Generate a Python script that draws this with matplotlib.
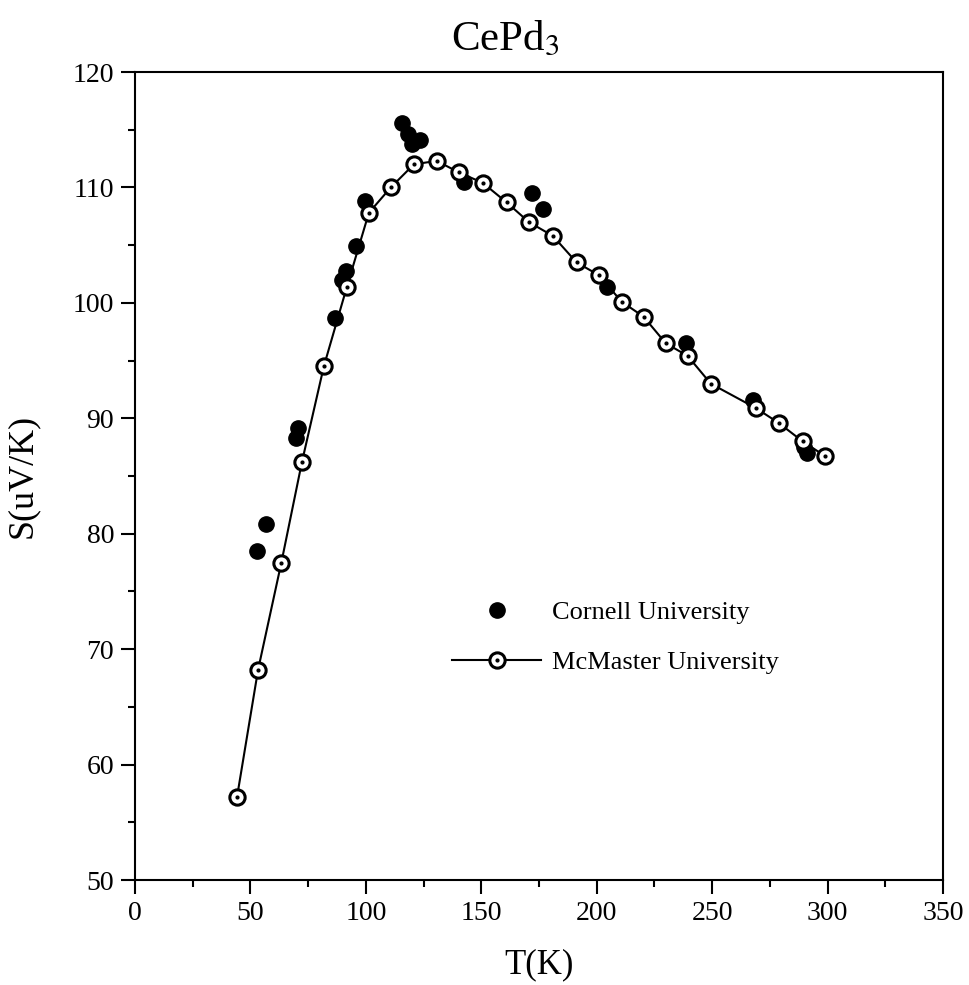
import matplotlib
matplotlib.use("Agg")
import matplotlib.pyplot as plt
from matplotlib.ticker import MultipleLocator
import numpy as np

# McMaster University (open circles joined by line)
mcm_T = [44.2, 53.3, 63.4, 72.3, 81.8, 91.8, 101.3, 110.8, 120.8, 130.7, 140.3, 150.6,
         161.0, 170.6, 181.0, 191.3, 200.9, 210.8, 220.3, 229.9, 239.4, 249.4,
         268.8, 278.8, 289.2, 299.1]
mcm_S = [57.2, 68.2, 77.5, 86.2, 94.5, 101.4, 107.8, 110.0, 112.0, 112.3, 111.3, 110.4,
         108.7, 107.0, 105.8, 103.5, 102.4, 100.1, 98.8, 96.5, 95.4, 93.0,
         90.9, 89.6, 88.0, 86.7]

# Cornell University (filled circles)
cor_T = [52.8, 56.7, 69.7, 70.6, 86.6, 89.6, 91.3, 95.7, 99.6, 115.6, 118.2, 119.9,
         123.4, 142.4, 171.9, 176.6, 204.3, 238.5, 267.5, 290.0, 291.3]
cor_S = [78.5, 80.8, 88.3, 89.2, 98.7, 102.0, 102.8, 104.9, 108.8, 115.6, 114.6, 113.8,
         114.1, 110.5, 109.5, 108.1, 101.4, 96.5, 91.6, 87.5, 87.0]

plt.rcParams['font.family'] = ['Liberation Serif', 'DejaVu Serif']

fig = plt.figure(figsize=(9.69, 9.85), dpi=100)
ax = fig.add_axes([135/969, 1-880/985, 808/969, 808/985])

ax.plot(cor_T, cor_S, 'o', color='k', markersize=11, zorder=2)
l1, = ax.plot(mcm_T, mcm_S, '-o', color='k', lw=1.5, markersize=11,
              markerfacecolor='white', markeredgewidth=2.2, zorder=3)
l2, = ax.plot(mcm_T, mcm_S, 'o', color='k', markersize=2, lw=0, zorder=4)

ax.set_xlim(0, 350)
ax.set_ylim(50, 120)
ax.xaxis.set_major_locator(MultipleLocator(50))
ax.xaxis.set_minor_locator(MultipleLocator(25))
ax.yaxis.set_major_locator(MultipleLocator(10))
ax.yaxis.set_minor_locator(MultipleLocator(5))
ax.tick_params(which='both', direction='out', width=1.5, top=False, right=False)
ax.tick_params(which='major', length=10, labelsize=20, pad=5)
ax.tick_params(which='minor', length=5)
for s in ax.spines.values():
    s.set_linewidth(1.5)

ax.set_xlabel('T(K)', fontsize=25, labelpad=16)
ax.set_ylabel('S(uV/K)', fontsize=26, labelpad=24)
fig.text(505/969, 1-40/985, r'CePd$_3$', fontsize=31, ha='center', va='center',
         math_fontfamily='stix')

leg = ax.legend([ax.lines[0], (l1, l2)], ['Cornell University', 'McMaster University'],
                loc='upper left', bbox_to_anchor=(0.392, 0.346), frameon=False,
                borderpad=0, borderaxespad=0,
                fontsize=19, handlelength=3.4, handletextpad=0.4, labelspacing=1.0)

fig.savefig('out.png', dpi=100)
